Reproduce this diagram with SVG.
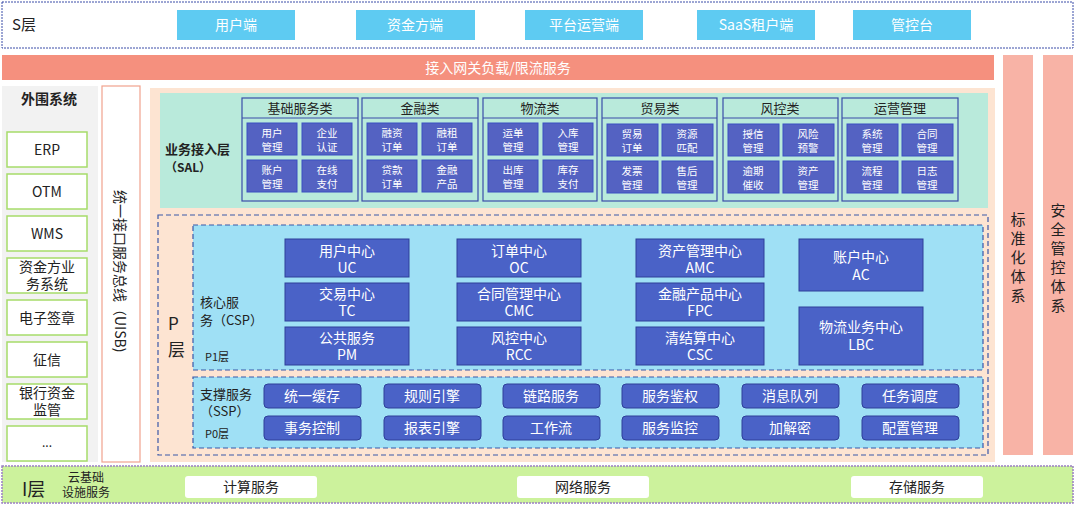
<svg xmlns="http://www.w3.org/2000/svg" width="1077" height="506" viewBox="0 0 1077 506">
<style>
text{font-family:"Noto Sans CJK SC","Noto Sans",sans-serif;}
.s{fill:#5ECBF2}
.sw{fill:#fff;font-size:14px;text-anchor:middle}
.bk{fill:#222;text-anchor:middle}
.ext{fill:#fff;stroke:#A6DC6A;stroke-width:1.5}
.cat{fill:none;stroke:#3B4DA8;stroke-width:1.2}
.sb{fill:#5462C2;stroke:#3A4FC2;stroke-width:1}
.st{fill:#fff;font-size:10.5px;text-anchor:middle}
.core{fill:#4A62C7;stroke:#2E3F99;stroke-width:1}
.ct{fill:#fff;font-size:14px;text-anchor:middle}
.sup{fill:#4A62C7;stroke:#2E3F99;stroke-width:1}
.dash{fill:none;stroke:#3B58A8;stroke-width:1.2;stroke-dasharray:5 3}
.blue{fill:#9FE0F5;stroke:#3B58A8;stroke-width:1.2;stroke-dasharray:5 3}
</style>
<g id="s-layer">
<rect x="2" y="2" width="1071" height="46" fill="#fff" stroke="#3B4DA8" stroke-dasharray="2 1"/>
<text x="12" y="30" font-size="15" fill="#222">S层</text>
<rect class="s" x="177" y="10" width="118" height="30"/><text class="sw" x="236" y="30">用户端</text>
<rect class="s" x="356" y="10" width="119" height="30"/><text class="sw" x="415" y="30">资金方端</text>
<rect class="s" x="525" y="10" width="118" height="30"/><text class="sw" x="584" y="30">平台运营端</text>
<rect class="s" x="697" y="10" width="118" height="30"/><text class="sw" x="756" y="30">SaaS租户端</text>
<rect class="s" x="853" y="10" width="118" height="30"/><text class="sw" x="912" y="30">管控台</text>
</g>
<g id="gateway">
<rect x="2" y="55" width="992" height="25" fill="#F5907E"/>
<text class="sw" x="498" y="73">接入网关负载/限流服务</text>
</g>
<g id="std">
<rect x="1003" y="55" width="30" height="400" fill="#F8B3A6"/>
<text font-size="15" fill="#222" text-anchor="middle"><tspan x="1018" y="225">标</tspan><tspan x="1018" y="244">准</tspan><tspan x="1018" y="263">化</tspan><tspan x="1018" y="282">体</tspan><tspan x="1018" y="301">系</tspan></text>
</g>
<g id="sec">
<rect x="1043" y="55" width="30" height="400" fill="#F8B3A6"/>
<text font-size="15" fill="#222" text-anchor="middle"><tspan x="1058" y="216">安</tspan><tspan x="1058" y="235">全</tspan><tspan x="1058" y="254">管</tspan><tspan x="1058" y="273">控</tspan><tspan x="1058" y="292">体</tspan><tspan x="1058" y="311">系</tspan></text>
</g>
<g id="ext">
<rect x="2" y="86" width="96" height="376" fill="#F2F2F2"/>
<text class="bk" x="49" y="104" font-size="14" font-weight="bold">外围系统</text>
<rect class="ext" x="7" y="132" width="80" height="35"/><text class="bk" x="47" y="155" font-size="14">ERP</text>
<rect class="ext" x="7" y="174" width="80" height="35"/><text class="bk" x="47" y="197" font-size="14">OTM</text>
<rect class="ext" x="7" y="216" width="80" height="35"/><text class="bk" x="47" y="239" font-size="14">WMS</text>
<rect class="ext" x="7" y="258" width="80" height="35"/><text class="bk" x="47" y="272" font-size="14">资金方业</text><text class="bk" x="47" y="289" font-size="14">务系统</text>
<rect class="ext" x="7" y="300" width="80" height="35"/><text class="bk" x="47" y="323" font-size="14">电子签章</text>
<rect class="ext" x="7" y="342" width="80" height="35"/><text class="bk" x="47" y="365" font-size="14">征信</text>
<rect class="ext" x="7" y="384" width="80" height="35"/><text class="bk" x="47" y="398" font-size="14">银行资金</text><text class="bk" x="47" y="415" font-size="14">监管</text>
<rect class="ext" x="7" y="426" width="80" height="35"/><text class="bk" x="47" y="447" font-size="12">...</text>
</g>
<g id="uisb">
<rect x="102" y="86" width="38" height="376" fill="#fff" stroke="#F0A28E" stroke-width="1.2"/>
<text font-size="14" fill="#222" transform="translate(115,190) rotate(90)">统一接口服务总线（UISB)</text>
</g>
<rect x="150" y="88" width="845" height="374" fill="#FDE4D2"/>
<g id="sal">
<rect x="160" y="93" width="828" height="115" fill="#B9EADB"/>
<text x="165" y="154" font-size="13" font-weight="bold" fill="#222">业务接入层</text>
<text x="165" y="172" font-size="12" font-weight="bold" fill="#222">（SAL）</text>
</g>
<g id="cat1"><rect class="cat" x="242" y="98" width="116" height="103"/><line x1="242" y1="118" x2="358" y2="118" stroke="#3B4DA8"/><text class="bk" x="300" y="113" font-size="13">基础服务类</text>
<rect class="sb" x="247" y="123" width="50" height="32"/><text class="st" x="272" y="137">用户</text><text class="st" x="272" y="151">管理</text>
<rect class="sb" x="302" y="123" width="50" height="32"/><text class="st" x="327" y="137">企业</text><text class="st" x="327" y="151">认证</text>
<rect class="sb" x="247" y="160" width="50" height="32"/><text class="st" x="272" y="174">账户</text><text class="st" x="272" y="188">管理</text>
<rect class="sb" x="302" y="160" width="50" height="32"/><text class="st" x="327" y="174">在线</text><text class="st" x="327" y="188">支付</text></g>
<g id="cat2"><rect class="cat" x="362" y="98" width="116" height="103"/><line x1="362" y1="118" x2="478" y2="118" stroke="#3B4DA8"/><text class="bk" x="420" y="113" font-size="13">金融类</text>
<rect class="sb" x="367" y="123" width="50" height="32"/><text class="st" x="392" y="137">融资</text><text class="st" x="392" y="151">订单</text>
<rect class="sb" x="422" y="123" width="50" height="32"/><text class="st" x="447" y="137">融租</text><text class="st" x="447" y="151">订单</text>
<rect class="sb" x="367" y="160" width="50" height="32"/><text class="st" x="392" y="174">贷款</text><text class="st" x="392" y="188">订单</text>
<rect class="sb" x="422" y="160" width="50" height="32"/><text class="st" x="447" y="174">金融</text><text class="st" x="447" y="188">产品</text></g>
<g id="cat3"><rect class="cat" x="483" y="98" width="114" height="103"/><line x1="483" y1="118" x2="597" y2="118" stroke="#3B4DA8"/><text class="bk" x="540" y="113" font-size="13">物流类</text>
<rect class="sb" x="488" y="123" width="50" height="32"/><text class="st" x="513" y="137">运单</text><text class="st" x="513" y="151">管理</text>
<rect class="sb" x="543" y="123" width="50" height="32"/><text class="st" x="568" y="137">入库</text><text class="st" x="568" y="151">管理</text>
<rect class="sb" x="488" y="160" width="50" height="32"/><text class="st" x="513" y="174">出库</text><text class="st" x="513" y="188">管理</text>
<rect class="sb" x="543" y="160" width="50" height="32"/><text class="st" x="568" y="174">库存</text><text class="st" x="568" y="188">支付</text></g>
<g id="cat4"><rect class="cat" x="602" y="98" width="115" height="103"/><line x1="602" y1="118" x2="717" y2="118" stroke="#3B4DA8"/><text class="bk" x="660" y="113" font-size="13">贸易类</text>
<rect class="sb" x="607" y="124" width="51" height="32"/><text class="st" x="632" y="138">贸易</text><text class="st" x="632" y="152">订单</text>
<rect class="sb" x="662" y="124" width="51" height="32"/><text class="st" x="687" y="138">资源</text><text class="st" x="687" y="152">匹配</text>
<rect class="sb" x="607" y="161" width="51" height="32"/><text class="st" x="632" y="175">发票</text><text class="st" x="632" y="189">管理</text>
<rect class="sb" x="662" y="161" width="51" height="32"/><text class="st" x="687" y="175">售后</text><text class="st" x="687" y="189">管理</text></g>
<g id="cat5"><rect class="cat" x="723" y="98" width="115" height="103"/><line x1="723" y1="118" x2="838" y2="118" stroke="#3B4DA8"/><text class="bk" x="780" y="113" font-size="13">风控类</text>
<rect class="sb" x="728" y="124" width="51" height="32"/><text class="st" x="753" y="138">授信</text><text class="st" x="753" y="152">管理</text>
<rect class="sb" x="783" y="124" width="51" height="32"/><text class="st" x="808" y="138">风险</text><text class="st" x="808" y="152">预警</text>
<rect class="sb" x="728" y="161" width="51" height="32"/><text class="st" x="753" y="175">逾期</text><text class="st" x="753" y="189">催收</text>
<rect class="sb" x="783" y="161" width="51" height="32"/><text class="st" x="808" y="175">资产</text><text class="st" x="808" y="189">管理</text></g>
<g id="cat6"><rect class="cat" x="842" y="98" width="116" height="103"/><line x1="842" y1="118" x2="958" y2="118" stroke="#3B4DA8"/><text class="bk" x="900" y="113" font-size="13">运营管理</text>
<rect class="sb" x="847" y="124" width="51" height="32"/><text class="st" x="872" y="138">系统</text><text class="st" x="872" y="152">管理</text>
<rect class="sb" x="902" y="124" width="51" height="32"/><text class="st" x="927" y="138">合同</text><text class="st" x="927" y="152">管理</text>
<rect class="sb" x="847" y="161" width="51" height="32"/><text class="st" x="872" y="175">流程</text><text class="st" x="872" y="189">管理</text>
<rect class="sb" x="902" y="161" width="51" height="32"/><text class="st" x="927" y="175">日志</text><text class="st" x="927" y="189">管理</text></g>
<g id="p-layer">
<rect class="dash" x="158" y="215" width="830" height="240"/>
<text x="168" y="330" font-size="17" fill="#222">P</text>
<text x="168" y="356" font-size="17" fill="#222">层</text>
<rect class="blue" x="193" y="225" width="790" height="145"/>
<text x="200" y="307" font-size="13" fill="#222">核心服</text>
<text x="200" y="325" font-size="13" fill="#222">务（CSP）</text>
<text x="205" y="361" font-size="11" fill="#222">P1层</text>
<rect class="blue" x="193" y="377" width="790" height="71"/>
<text x="200" y="399" font-size="13" fill="#222">支撑服务</text>
<text x="200" y="416" font-size="13" fill="#222">（SSP）</text>
<text x="205" y="438" font-size="11" fill="#222">P0层</text>
</g>
<g id="core">
<rect class="core" x="285" y="239" width="124" height="38"/><text class="ct" x="347" y="256">用户中心</text><text class="ct" x="347" y="273">UC</text>
<rect class="core" x="285" y="283" width="124" height="38"/><text class="ct" x="347" y="299">交易中心</text><text class="ct" x="347" y="316">TC</text>
<rect class="core" x="285" y="327" width="124" height="38"/><text class="ct" x="347" y="343">公共服务</text><text class="ct" x="347" y="360">PM</text>
<rect class="core" x="457" y="239" width="124" height="38"/><text class="ct" x="519" y="256">订单中心</text><text class="ct" x="519" y="273">OC</text>
<rect class="core" x="457" y="283" width="124" height="38"/><text class="ct" x="519" y="299">合同管理中心</text><text class="ct" x="519" y="316">CMC</text>
<rect class="core" x="457" y="327" width="124" height="38"/><text class="ct" x="519" y="343">风控中心</text><text class="ct" x="519" y="360">RCC</text>
<rect class="core" x="636" y="239" width="128" height="38"/><text class="ct" x="700" y="256">资产管理中心</text><text class="ct" x="700" y="273">AMC</text>
<rect class="core" x="636" y="283" width="128" height="38"/><text class="ct" x="700" y="299">金融产品中心</text><text class="ct" x="700" y="316">FPC</text>
<rect class="core" x="636" y="327" width="128" height="38"/><text class="ct" x="700" y="343">清结算中心</text><text class="ct" x="700" y="360">CSC</text>
<rect class="core" x="799" y="239" width="124" height="52"/><text class="ct" x="861" y="262">账户中心</text><text class="ct" x="861" y="280">AC</text>
<rect class="core" x="799" y="307" width="124" height="58"/><text class="ct" x="861" y="332">物流业务中心</text><text class="ct" x="861" y="350">LBC</text>
</g>
<g id="support">
<rect class="sup" x="264" y="384" width="97" height="24" rx="4"/><text class="ct" x="312" y="401">统一缓存</text>
<rect class="sup" x="384" y="384" width="97" height="24" rx="4"/><text class="ct" x="432" y="401">规则引擎</text>
<rect class="sup" x="503" y="384" width="97" height="24" rx="4"/><text class="ct" x="551" y="401">链路服务</text>
<rect class="sup" x="622" y="384" width="97" height="24" rx="4"/><text class="ct" x="670" y="401">服务鉴权</text>
<rect class="sup" x="742" y="384" width="97" height="24" rx="4"/><text class="ct" x="790" y="401">消息队列</text>
<rect class="sup" x="862" y="384" width="97" height="24" rx="4"/><text class="ct" x="910" y="401">任务调度</text>
<rect class="sup" x="264" y="416" width="97" height="24" rx="4"/><text class="ct" x="312" y="433">事务控制</text>
<rect class="sup" x="384" y="416" width="97" height="24" rx="4"/><text class="ct" x="432" y="433">报表引擎</text>
<rect class="sup" x="503" y="416" width="97" height="24" rx="4"/><text class="ct" x="551" y="433">工作流</text>
<rect class="sup" x="622" y="416" width="97" height="24" rx="4"/><text class="ct" x="670" y="433">服务监控</text>
<rect class="sup" x="742" y="416" width="97" height="24" rx="4"/><text class="ct" x="790" y="433">加解密</text>
<rect class="sup" x="862" y="416" width="97" height="24" rx="4"/><text class="ct" x="910" y="433">配置管理</text>
</g>
<g id="i-layer">
<rect x="2" y="466" width="1071" height="37" fill="#CCF29C" stroke="#9B7FC4" stroke-dasharray="2 1" stroke-width="1.5"/>
<text x="22" y="496" font-size="18" fill="#222">I层</text>
<text class="bk" x="86" y="482" font-size="12">云基础</text>
<text class="bk" x="86" y="497" font-size="12">设施服务</text>
<rect x="185" y="476" width="132" height="22" rx="3" fill="#fff"/><text class="bk" x="251" y="492" font-size="14">计算服务</text>
<rect x="517" y="476" width="132" height="22" rx="3" fill="#fff"/><text class="bk" x="583" y="492" font-size="14">网络服务</text>
<rect x="851" y="476" width="132" height="22" rx="3" fill="#fff"/><text class="bk" x="917" y="492" font-size="14">存储服务</text>
</g>
<g id="connectors"></g>
</svg>
